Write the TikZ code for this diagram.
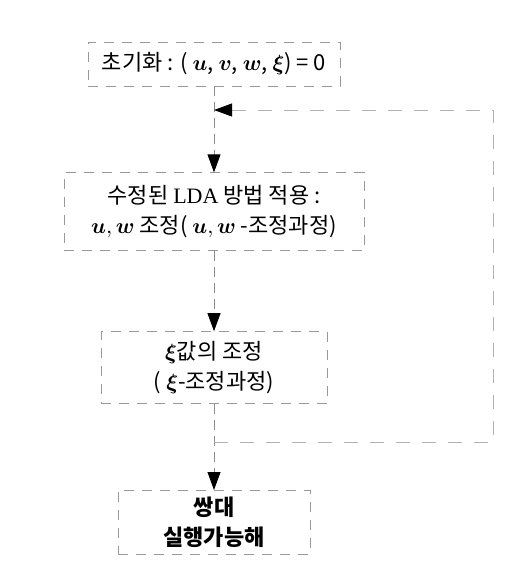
\documentclass[tikz,border=0pt]{standalone}
\usepackage{amsmath,amssymb}
\usepackage{fontspec}
\setmainfont{Liberation Serif}
\newfontfamily\kr{Noto Sans CJK KR}
\usetikzlibrary{arrows.meta,positioning}

\begin{document}
\begin{tikzpicture}[
  x=0.5pt, y=-0.5pt,
  font=\kr\fontsize{11}{15}\selectfont,
  box/.style={rectangle, draw=black!40, thin, dash pattern=on 5pt off 4pt, align=center, inner sep=2pt},
  arr/.style={-{Triangle[length=9pt,width=6.5pt,black]}, draw=black!45, thin, dash pattern=on 5pt off 3pt},
  back/.style={-{Triangle[length=9pt,width=6.5pt,black]}, draw=black!30, thin, dash pattern=on 7pt off 6pt}
]
\useasboundingbox (0,0) rectangle (513,573);
% steps
\node[box, minimum width=126pt, minimum height=22pt] (init) at (214,64)
  {초기화 : ( $\boldsymbol{u}$,\ $\boldsymbol{v}$,\ $\boldsymbol{w}$,\ $\boldsymbol{\xi}$) = 0};
\node[box, minimum width=150pt, minimum height=39pt, below=43pt of init] (lda)
  {수정된 {\rmfamily LDA} 방법 적용 :\\ $\boldsymbol{u},\boldsymbol{w}$ 조정( $\boldsymbol{u},\boldsymbol{w}$ -조정과정)};
\node[box, minimum width=113pt, minimum height=36pt, below=40pt of lda] (xi)
  {$\boldsymbol{\xi}$값의 조정\\ ( $\boldsymbol{\xi}$-조정과정)};
\node[box, minimum width=96pt, minimum height=32pt, below=43pt of xi, font=\kr\bfseries\fontsize{11}{15}\selectfont] (dual)
  {쌍대\\ 실행가능해};
% loop points
\coordinate (rtop) at (493,110);
\coordinate (rbot) at (493,442);
\coordinate (fbin) at (init.south |- rtop);
\coordinate (fbout) at (xi.south |- rbot);
% arrows
\draw[arr] (init) -- (lda);
\draw[arr] (lda) -- (xi);
\draw[arr] (xi) -- (dual);
\draw[back] (fbout) -- (rbot) -- (rtop) -- (fbin);
\end{tikzpicture}
\end{document}
